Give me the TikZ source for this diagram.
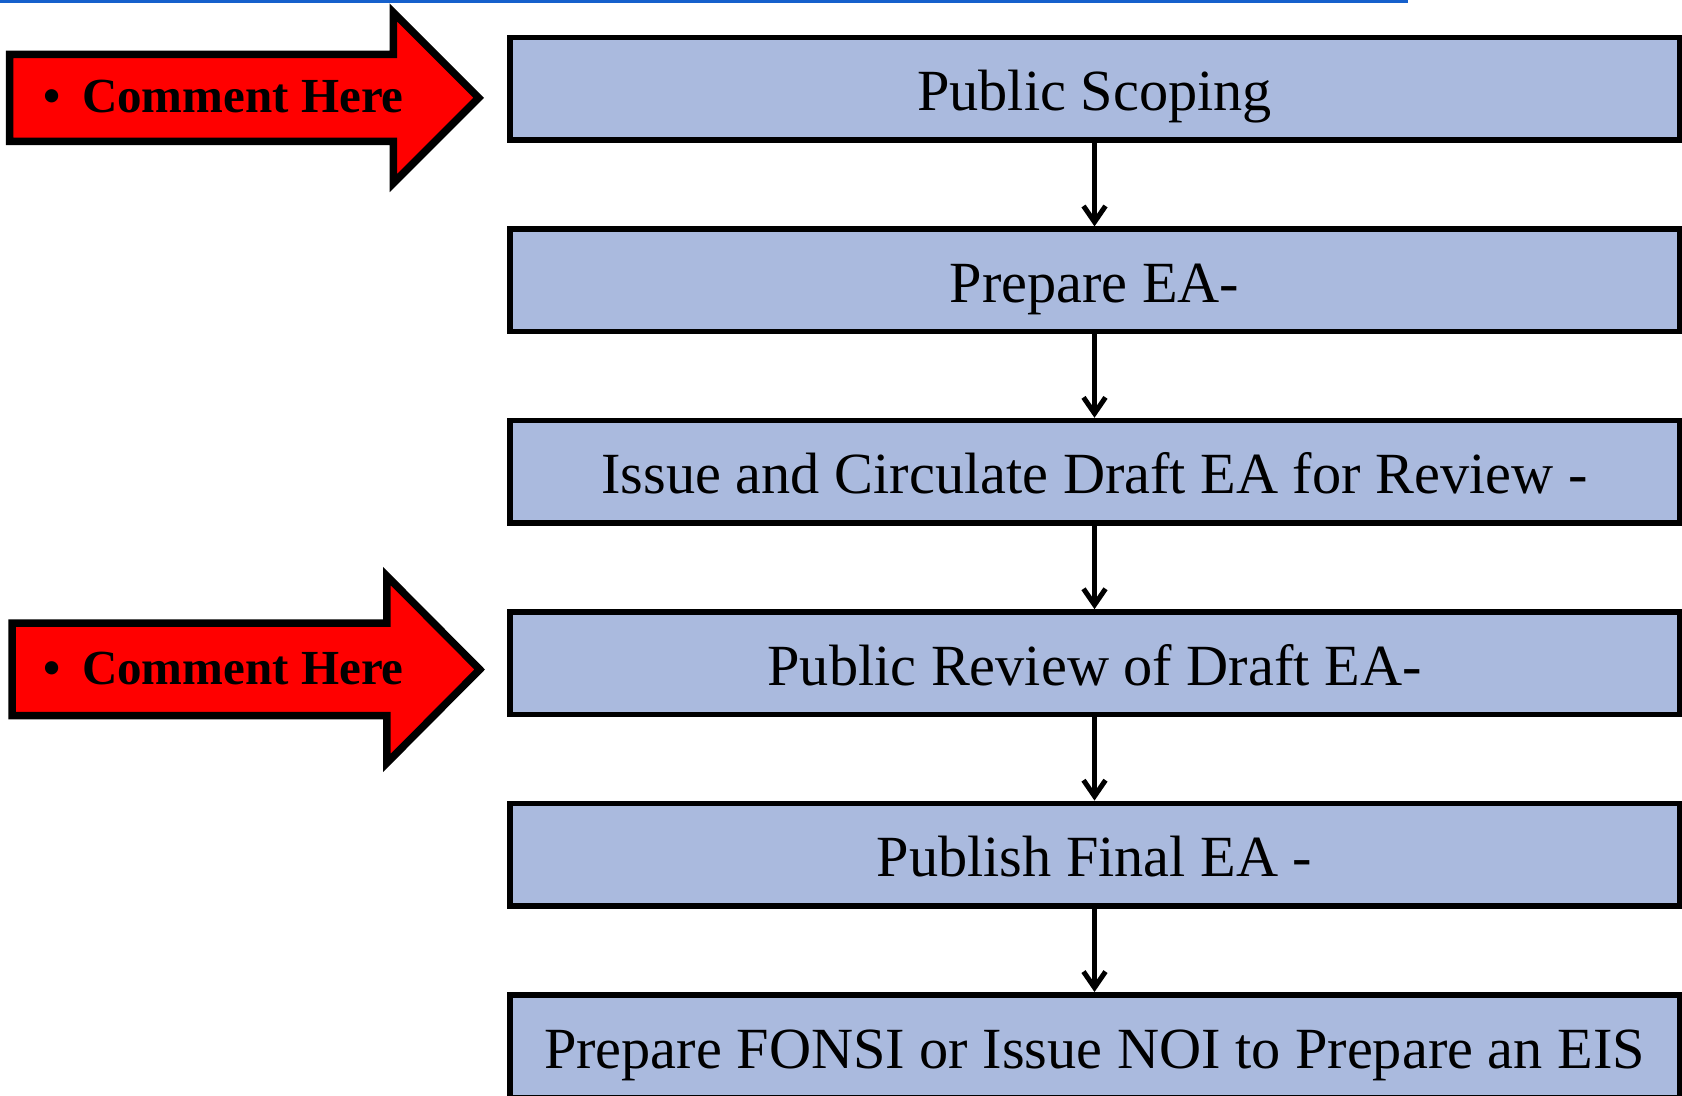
\documentclass[tikz,border=0pt]{standalone}
\usepackage{fontspec}
\setmainfont{Liberation Serif}
\usepackage{xcolor}
\usepackage{tikz}
\usetikzlibrary{arrows.meta,positioning}

\definecolor{stagefill}{RGB}{170,186,222}
\definecolor{rulecol}{RGB}{21,96,204}

\begin{document}
\begin{tikzpicture}[
  x=0.5pt, y=0.5pt,
  node distance=41.7pt,
  stage/.style={draw, line width=2.75pt, fill=stagefill,
    minimum width=584.75pt, minimum height=51.25pt, inner sep=0pt,
    text height=22pt, text depth=0pt,
    font=\fontsize{29.15pt}{35pt}\selectfont},
  note/.style={draw, line width=3.75pt, fill=red},
  comment/.style={anchor=base west, inner sep=0pt,
    font=\fontsize{24.5pt}{29pt}\selectfont\bfseries},
  arr/.style={-{Straight Barb[length=8pt, width=11pt]}, line width=2.5pt}
]
  \useasboundingbox (0,0) rectangle (1682,-1096);
  \draw[rulecol, line width=1.35pt] (0,-1.3) -- (1408,-1.3);

  % process steps
  \node[stage] (scoping) at (1094.5,-89) {Public Scoping};
  \node[stage, below=of scoping] (prepare) {Prepare EA-};
  \node[stage, below=of prepare] (circulate) {Issue and Circulate Draft EA for Review -};
  \node[stage, below=of circulate] (review) {Public Review of Draft EA-};
  \node[stage, below=of review] (final) {Publish Final EA -};
  \node[stage, below=of final] (fonsi) {Prepare FONSI or Issue NOI to Prepare an EIS};

  \draw[arr] (scoping) -- (prepare);
  \draw[arr] (prepare) -- (circulate);
  \draw[arr] (circulate) -- (review);
  \draw[arr] (review) -- (final);
  \draw[arr] (final) -- (fonsi);

  % comment arrows
  \draw[note] (9.5,-54.5) -- (393.3,-54.5) -- (393.3,-12.4) -- (478.7,-97.8)
    -- (393.3,-183.2) -- (393.3,-141.3) -- (9.5,-141.3) -- cycle;
  \node[comment] (note1) at (43,-112.7) {\textbullet\hspace{10.8pt}Comment Here};

  \draw[note] (12,-623) -- (386.8,-623) -- (386.8,-576) -- (479.7,-669.5)
    -- (386.8,-763) -- (386.8,-715.5) -- (12,-715.5) -- cycle;
  \node[comment] (note2) at (43,-684.5) {\textbullet\hspace{10.8pt}Comment Here};
\end{tikzpicture}
\end{document}
